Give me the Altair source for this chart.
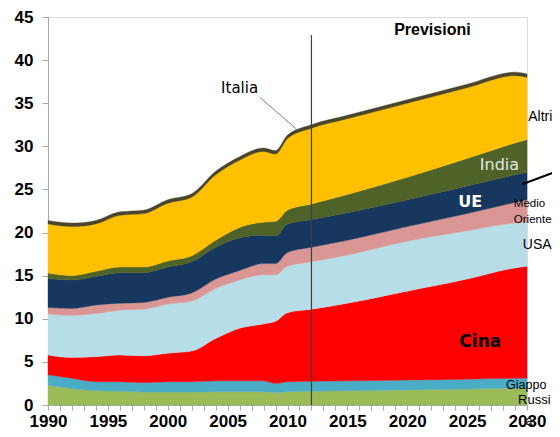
import altair as alt
import pandas as pd

years = [1990, 1992, 1994, 1996, 1998, 2000, 2002, 2004, 2006, 2008, 2009, 2010,
         2012, 2015, 2020, 2025, 2029, 2030]

russia = [2.3, 1.9, 1.65, 1.6, 1.5, 1.5, 1.5, 1.55, 1.55, 1.55, 1.45, 1.55, 1.6, 1.65, 1.75, 1.85, 1.95, 1.95]
giappone = [1.2, 1.2, 1.05, 1.1, 1.1, 1.2, 1.2, 1.25, 1.25, 1.25, 1.05, 1.15, 1.15, 1.15, 1.15, 1.15, 1.15, 1.15]
cina = [2.3, 2.4, 2.9, 3.1, 3.1, 3.3, 3.55, 4.9, 6.1, 6.6, 7.2, 8.0, 8.35, 9.0, 10.3, 11.6, 12.8, 13.0]
usa = [4.75, 4.9, 5.0, 5.2, 5.4, 5.7, 5.8, 5.8, 5.6, 5.7, 5.4, 5.4, 5.5, 5.6, 5.8, 5.6, 5.2, 5.1]
medio_oriente = [0.75, 0.8, 1.0, 0.8, 0.8, 0.8, 0.95, 1.1, 1.1, 1.3, 1.3, 1.6, 1.7, 1.7, 1.7, 2.0, 2.4, 2.6]
ue = [3.4, 3.3, 3.3, 3.55, 3.45, 3.5, 3.6, 3.7, 3.8, 3.3, 3.2, 3.3, 3.2, 3.2, 3.1, 3.2, 3.2, 3.2]
india = [0.6, 0.5, 0.6, 0.65, 0.65, 0.7, 0.7, 0.8, 1.2, 1.5, 1.7, 1.6, 1.8, 2.1, 2.6, 3.2, 3.7, 3.8]
altri = [5.7, 5.7, 5.5, 6.0, 6.2, 6.7, 6.8, 7.6, 7.8, 8.2, 7.8, 8.3, 8.8, 8.8, 8.6, 8.2, 7.8, 7.2]
italia = [0.4, 0.4, 0.4, 0.4, 0.4, 0.4, 0.4, 0.4, 0.4, 0.4, 0.4, 0.4, 0.4, 0.4, 0.4, 0.4, 0.4, 0.4]

regions = ["Russia", "Giappone", "Cina", "USA", "Medio Oriente", "UE", "India", "Altri", "Italia"]
series = [russia, giappone, cina, usa, medio_oriente, ue, india, altri, italia]
colors = ["#9BBB59", "#4BACC6", "#FF0000", "#B7DEE8", "#D99694", "#17375E", "#4F6228", "#FFC000", "#4A452A"]

x_ticks = list(range(1990, 2031))
y_ticks = list(range(0, 46, 5))

rows = []
for i, (name, vals) in enumerate(zip(regions, series)):
    for y, v in zip(years, vals):
        rows.append({"year": y, "region": name, "value": v, "idx": i})
df = pd.DataFrame(rows)

forecast_year = [2012]
forecast_top = [42.9]

# annotation labels
lab_text = ["Previsioni", "Italia", "Altri", "India", "UE", "Medio", "Oriente", "USA", "Cina", "Giappo", "Russi", "a"]
lab_x = [2022.1, 2006.0, 2030.1, 2027.7, 2025.25, 2028.9, 2028.9, 2029.65, 2026.1, 2028.25, 2029.25, 2029.9]
lab_y = [43.5, 36.8, 33.4, 27.8, 23.6, 23.3, 21.5, 18.6, 7.35, 2.3, 0.6, -1.8]
lab_size = [16, 15, 14, 16, 16, 11.5, 11.5, 14, 17, 12.5, 13, 12]
lab_weight = ["bold", "normal", "normal", "normal", "bold", "normal", "normal", "normal", "bold", "normal", "normal", "normal"]
lab_color = ["#000000", "#000000", "#000000", "#E6E6E6", "#FFFFFF", "#000000", "#000000", "#000000", "#000000", "#000000", "#000000", "#000000"]
lab_align = ["center", "center", "left", "center", "center", "left", "left", "left", "center", "left", "left", "left"]
lab_font = ["Liberation Sans", "DejaVu Sans", "Liberation Sans", "DejaVu Sans", "DejaVu Sans", "Liberation Sans",
            "Liberation Sans", "Liberation Sans", "DejaVu Sans", "Liberation Sans", "Liberation Sans", "Liberation Sans"]

leader_x = [2007.67, 2029.6]
leader_x2 = [2010.75, 2032.67]
leader_y = [35.7, 25.6]
leader_y2 = [32.0, 27.2]
leader_color = ["#808080", "#000000"]
leader_width = [1, 2]

xscale = alt.Scale(domain=[1990, 2030], nice=False, zero=False)
yscale = alt.Scale(domain=[0, 45], nice=False)

xaxis = alt.Axis(values=x_ticks, format="d",
                 labelExpr="datum.value % 5 == 0 ? datum.label : ''",
                 labelOverlap=False, labelFlush=False, grid=False,
                 tickSize=5, tickColor="#A6A6A6", domainColor="#A6A6A6",
                 labelFont="Liberation Sans", labelFontSize=17, labelFontWeight="bold",
                 labelColor="#000000", labelPadding=3, title=None)
yaxis = alt.Axis(values=y_ticks, grid=False, labelOverlap=False,
                 tickSize=6, tickColor="#A6A6A6", domainColor="#A6A6A6",
                 labelFont="Liberation Sans", labelFontSize=17, labelFontWeight="bold",
                 labelColor="#000000", labelPadding=9, title=None)

areas = alt.Chart(df).mark_area(interpolate="monotone", strokeWidth=0.4).encode(
    x=alt.X("year:Q", scale=xscale, axis=xaxis),
    y=alt.Y("value:Q", stack="zero", scale=yscale, axis=yaxis),
    color=alt.Color("region:N", scale=alt.Scale(domain=regions, range=colors), legend=None),
    stroke=alt.Stroke("region:N", scale=alt.Scale(domain=regions, range=colors), legend=None),
    order=alt.Order("idx:Q", sort="ascending"),
)

rule_df = pd.DataFrame({"year": forecast_year, "top": forecast_top, "bottom": [0]})
vline = alt.Chart(rule_df).mark_rule(color="#404040", strokeWidth=1.2).encode(
    x=alt.X("year:Q", scale=xscale, axis=xaxis),
    y=alt.Y("bottom:Q", scale=yscale, axis=yaxis),
    y2="top:Q",
)

lead_df = pd.DataFrame({"x": leader_x, "x2": leader_x2, "y": leader_y, "y2": leader_y2,
                        "c": leader_color, "w": leader_width})
leaders = alt.Chart(lead_df).mark_rule().encode(
    x=alt.X("x:Q", scale=xscale, axis=xaxis),
    x2="x2:Q",
    y=alt.Y("y:Q", scale=yscale, axis=yaxis),
    y2="y2:Q",
    color=alt.Color("c:N", scale=None),
    strokeWidth=alt.StrokeWidth("w:Q", scale=None),
)

labels = []
for t, x, y, s, w, c, a, f in zip(lab_text, lab_x, lab_y, lab_size, lab_weight, lab_color, lab_align, lab_font):
    d = pd.DataFrame({"x": [x], "y": [y], "t": [t]})
    labels.append(
        alt.Chart(d).mark_text(fontSize=s, fontWeight=w, color=c, align=a, baseline="middle", font=f).encode(
            x=alt.X("x:Q", scale=xscale, axis=xaxis), y=alt.Y("y:Q", scale=yscale, axis=yaxis), text="t:N")
    )

chart = alt.layer(areas, vline, leaders, *labels).properties(
    width=479, height=388,
    autosize=alt.AutoSizeParams(type="none"),
    padding={"left": 40, "top": 9, "right": 25, "bottom": 24},
).configure_view(stroke=None).configure_axis(labelOverlap=False).configure(background="#FFFFFF")

chart.save("out.html", embed_options={"renderer": "svg", "actions": False})
